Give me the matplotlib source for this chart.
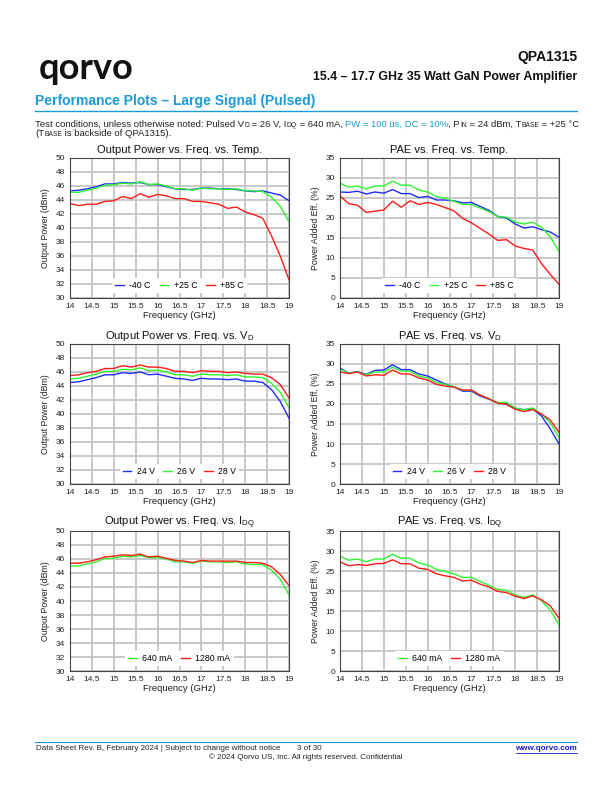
import matplotlib
matplotlib.use("Agg")
import matplotlib.pyplot as plt

plt.rcParams['font.family'] = ['Liberation Sans', 'DejaVu Sans']
plt.rcParams['mathtext.fontset'] = 'custom'
plt.rcParams['mathtext.rm'] = 'Liberation Sans'
plt.rcParams['mathtext.it'] = 'Liberation Sans'

# ---------------- data ----------------
freq = [14.0, 14.2, 14.4, 14.6, 14.8, 15.0, 15.2, 15.4, 15.6, 15.8, 16.0, 16.2, 16.4,
        16.6, 16.8, 17.0, 17.2, 17.4, 17.6, 17.8, 18.0, 18.2, 18.4, 18.6, 18.8, 19.0]

pout_m40 = [45.3, 45.4, 45.6, 45.9, 46.3, 46.3, 46.5, 46.4, 46.5, 46.2, 46.2, 45.9, 45.6,
            45.5, 45.5, 45.7, 45.7, 45.6, 45.6, 45.5, 45.3, 45.2, 45.3, 45.0, 44.7, 43.9]
pout_p25 = [45.1, 45.1, 45.4, 45.7, 46.1, 46.2, 46.4, 46.3, 46.6, 46.2, 46.3, 46.0, 45.6,
            45.6, 45.4, 45.7, 45.6, 45.6, 45.5, 45.6, 45.3, 45.3, 45.2, 44.4, 43.1, 40.9]
pout_p85 = [43.5, 43.2, 43.4, 43.4, 43.8, 43.9, 44.5, 44.2, 44.9, 44.4, 44.8, 44.6, 44.2,
            44.2, 43.8, 43.8, 43.6, 43.4, 42.8, 43.0, 42.3, 41.9, 41.4, 38.9, 36.0, 32.6]

pae_m40 = [26.5, 26.4, 26.7, 26.0, 26.5, 26.2, 27.1, 26.1, 26.1, 25.1, 25.4, 24.5, 24.5,
           24.3, 23.8, 23.9, 22.9, 21.9, 20.4, 20.0, 18.5, 17.5, 17.8, 17.1, 16.5, 15.2]
pae_p25 = [28.7, 27.7, 28.0, 27.3, 28.0, 28.0, 29.2, 28.2, 28.2, 27.0, 26.5, 25.4, 24.9,
           24.2, 23.4, 23.4, 22.5, 21.6, 20.4, 20.2, 19.0, 18.5, 19.0, 17.7, 15.3, 11.6]
pae_p85 = [25.5, 23.6, 23.2, 21.4, 21.7, 22.0, 24.2, 22.7, 24.3, 23.4, 23.9, 23.4, 22.6,
           21.8, 19.9, 18.8, 17.4, 16.0, 14.4, 14.6, 13.0, 12.4, 12.0, 8.6, 5.9, 3.4]

pout_24v = [44.5, 44.6, 44.9, 45.2, 45.6, 45.6, 45.9, 45.8, 46.0, 45.6, 45.7, 45.4, 45.1,
            45.0, 44.8, 45.1, 45.0, 45.0, 44.9, 45.0, 44.7, 44.7, 44.5, 43.5, 41.8, 39.4]
pout_26v = [45.0, 45.1, 45.4, 45.7, 46.1, 46.1, 46.4, 46.3, 46.6, 46.2, 46.3, 46.0, 45.6,
            45.6, 45.4, 45.7, 45.6, 45.6, 45.5, 45.6, 45.3, 45.3, 45.2, 44.4, 43.1, 40.9]
pout_28v = [45.5, 45.6, 45.9, 46.1, 46.5, 46.5, 46.9, 46.7, 47.0, 46.7, 46.7, 46.5, 46.1,
            46.1, 45.9, 46.2, 46.1, 46.1, 45.9, 46.0, 45.8, 45.7, 45.7, 45.2, 44.2, 42.3]

pae_24v = [29.0, 27.7, 28.1, 27.4, 28.4, 28.5, 29.8, 28.6, 28.6, 27.5, 27.0, 26.0, 25.0,
           24.3, 23.2, 23.2, 22.0, 21.2, 20.3, 20.2, 18.9, 18.6, 18.8, 17.0, 13.8, 10.0]
pae_26v = [28.7, 27.7, 28.0, 27.3, 28.0, 28.0, 29.2, 28.2, 28.2, 27.0, 26.5, 25.4, 24.9,
           24.3, 23.4, 23.4, 22.3, 21.3, 20.4, 20.4, 19.0, 18.5, 19.0, 17.5, 15.3, 11.6]
pae_28v = [28.0, 27.6, 28.0, 27.0, 27.3, 27.2, 28.5, 27.5, 27.5, 26.5, 26.0, 24.9, 24.5,
           24.2, 23.5, 23.5, 22.2, 21.3, 20.2, 19.9, 18.7, 18.1, 18.6, 17.5, 16.0, 12.9]

pout_640 = [45.0, 45.0, 45.3, 45.6, 46.1, 46.1, 46.4, 46.3, 46.5, 46.2, 46.2, 46.0, 45.6,
            45.6, 45.4, 45.7, 45.6, 45.6, 45.5, 45.6, 45.3, 45.2, 45.2, 44.4, 43.1, 40.9]
pout_1280 = [45.4, 45.4, 45.6, 45.9, 46.3, 46.4, 46.6, 46.5, 46.7, 46.3, 46.4, 46.1, 45.8,
             45.7, 45.5, 45.8, 45.7, 45.7, 45.7, 45.7, 45.5, 45.5, 45.4, 44.9, 43.8, 42.2]

pae_640 = [28.7, 27.7, 28.0, 27.3, 28.0, 28.0, 29.2, 28.2, 28.2, 27.0, 26.5, 25.4, 24.9,
           24.3, 23.4, 23.4, 22.4, 21.4, 20.4, 20.2, 19.0, 18.4, 19.0, 17.6, 15.2, 11.6]
pae_1280 = [27.3, 26.3, 26.6, 26.4, 26.8, 26.9, 27.8, 26.8, 26.8, 25.7, 25.4, 24.3, 23.8,
            23.4, 22.5, 22.7, 21.7, 21.0, 19.9, 19.6, 18.7, 18.1, 18.8, 17.8, 16.3, 13.2]

temp_labels = ['-40 C', '+25 C', '+85 C']
vd_labels = ['24 V', '26 V', '28 V']
idq_labels = ['640 mA', '1280 mA']
xticks = [14, 14.5, 15, 15.5, 16, 16.5, 17, 17.5, 18, 18.5, 19]
xticklabels = ['14', '14.5', '15', '15.5', '16', '16.5', '17', '17.5', '18', '18.5', '19']
pout_ticks = [30, 32, 34, 36, 38, 40, 42, 44, 46, 48, 50]
pae_ticks = [0, 5, 10, 15, 20, 25, 30, 35]

BLUE = '#1f2bff'
GREEN = '#2ef52e'
RED = '#ff1a1a'
QBLUE = '#1a9ad6'
TXT = '#222222'

W, H = 612, 792
fig = plt.figure(figsize=(W / 100, H / 100), dpi=100)
renderer = fig.canvas.get_renderer()


def fx(x):
    return x / W


def fy(y):
    return 1 - y / H


def make_ax(l, t, r, b):
    return fig.add_axes([fx(l), fy(b), (r - l) / W, (b - t) / H])


def style(ax, title, ylabel, yticks, ylim):
    ax.set_xlim(14, 19)
    ax.set_ylim(*ylim)
    ax.set_xticks(xticks)
    ax.set_xticklabels(xticklabels)
    ax.set_yticks(yticks)
    ax.tick_params(length=0, labelsize=6, pad=3.5, colors=TXT)
    ax.grid(True, color='#c4c4c4', linewidth=1.3)
    ax.set_axisbelow(True)
    for s in ax.spines.values():
        s.set_color('#444444')
        s.set_linewidth(0.8)
    ax.set_title(title, fontsize=8, pad=3.5, color='#111111')
    ax.set_xlabel('Frequency (GHz)', fontsize=6.8, labelpad=1, color=TXT)
    ax.set_ylabel(ylabel, fontsize=6.3, labelpad=4, color=TXT)


def legend(ax, ncol):
    lg = ax.legend(loc='lower center', bbox_to_anchor=(0.5, 0.015), ncol=ncol,
                   fontsize=6.3, frameon=True, handlelength=1.0, handletextpad=0.6,
                   columnspacing=1.0, borderpad=0.35, borderaxespad=0.3, fancybox=False)
    lg.get_frame().set_facecolor('white')
    lg.get_frame().set_edgecolor('none')
    lg.get_frame().set_alpha(1)


cols_x = [(70, 289), (340, 559)]
rows_y = [(158, 298), (344, 484), (531, 671)]

lw = 1.0
# Row 1
ax = make_ax(cols_x[0][0], rows_y[0][0], cols_x[0][1], rows_y[0][1])
for d, c, lab in zip([pout_m40, pout_p25, pout_p85], [BLUE, GREEN, RED], temp_labels):
    ax.plot(freq, d, color=c, lw=lw, label=lab)
style(ax, 'Output Power vs. Freq. vs. Temp.', 'Output Power (dBm)', pout_ticks, (30, 50))
legend(ax, 3)

ax = make_ax(cols_x[1][0], rows_y[0][0], cols_x[1][1], rows_y[0][1])
for d, c, lab in zip([pae_m40, pae_p25, pae_p85], [BLUE, GREEN, RED], temp_labels):
    ax.plot(freq, d, color=c, lw=lw, label=lab)
style(ax, 'PAE vs. Freq. vs. Temp.', 'Power Added Eff. (%)', pae_ticks, (0, 35))
legend(ax, 3)

# Row 2
ax = make_ax(cols_x[0][0], rows_y[1][0], cols_x[0][1], rows_y[1][1])
for d, c, lab in zip([pout_24v, pout_26v, pout_28v], [BLUE, GREEN, RED], vd_labels):
    ax.plot(freq, d, color=c, lw=lw, label=lab)
style(ax, r'Output Power vs. Freq. vs. V$_\mathrm{D}$', 'Output Power (dBm)', pout_ticks, (30, 50))
legend(ax, 3)

ax = make_ax(cols_x[1][0], rows_y[1][0], cols_x[1][1], rows_y[1][1])
for d, c, lab in zip([pae_24v, pae_26v, pae_28v], [BLUE, GREEN, RED], vd_labels):
    ax.plot(freq, d, color=c, lw=lw, label=lab)
style(ax, r'PAE vs. Freq. vs. V$_\mathrm{D}$', 'Power Added Eff. (%)', pae_ticks, (0, 35))
legend(ax, 3)

# Row 3
ax = make_ax(cols_x[0][0], rows_y[2][0], cols_x[0][1], rows_y[2][1])
for d, c, lab in zip([pout_640, pout_1280], [GREEN, RED], idq_labels):
    ax.plot(freq, d, color=c, lw=lw, label=lab)
style(ax, r'Output Power vs. Freq. vs. I$_\mathrm{DQ}$', 'Output Power (dBm)', pout_ticks, (30, 50))
legend(ax, 2)

ax = make_ax(cols_x[1][0], rows_y[2][0], cols_x[1][1], rows_y[2][1])
for d, c, lab in zip([pae_640, pae_1280], [GREEN, RED], idq_labels):
    ax.plot(freq, d, color=c, lw=lw, label=lab)
style(ax, r'PAE vs. Freq. vs. I$_\mathrm{DQ}$', 'Power Added Eff. (%)', pae_ticks, (0, 35))
legend(ax, 2)

# ---------------- header ----------------
fig.text(fx(39), fy(79), 'qorvo', fontsize=26, fontweight='bold', family=['Lato', 'DejaVu Sans'],
         va='baseline', ha='left', color='#111111')
fig.text(fx(577), fy(57), 'QPA1315', fontsize=10, fontweight='bold', ha='right', va='center',
         color='#111111')
fig.text(fx(577), fy(77), '15.4 – 17.7 GHz 35 Watt GaN Power Amplifier', fontsize=8.9,
         fontweight='bold', ha='right', va='center', color='#111111')
fig.text(fx(35), fy(105.5), 'Performance Plots – Large Signal (Pulsed)', fontsize=10,
         fontweight='bold', ha='left', va='baseline', color=QBLUE)
fig.add_artist(plt.Line2D([fx(35), fx(577)], [fy(111.3), fy(111.3)], color=QBLUE, lw=1.0))


def chain(x0, ybase, segs, base=6.8, sub=4.85):
    x = x0
    for s, is_sub, color in segs:
        size = sub if is_sub else base
        dy = 0.5 if is_sub else 0.0
        t = fig.text(fx(x), fy(ybase + dy), s, fontsize=size, color=color,
                     ha='left', va='baseline')
        x += t.get_window_extent(renderer).width


line1 = [
    ('Test conditions, unless otherwise noted: Pulsed V', False, TXT),
    ('D', True, TXT),
    (' = 26 V, I', False, TXT),
    ('DQ', True, TXT),
    (' = 640 mA, ', False, TXT),
    ('PW = 100 us, DC = 10%', False, QBLUE),
    (', P', False, TXT),
    ('IN', True, TXT),
    (' = 24 dBm, T', False, TXT),
    ('BASE', True, TXT),
    (' = +25 °C', False, TXT),
]
line2 = [
    ('(T', False, TXT),
    ('BASE', True, TXT),
    (' is backside of QPA1315).', False, TXT),
]
chain(35, 126.7, line1)
chain(35, 135.7, line2)

# ---------------- footer ----------------
fig.add_artist(plt.Line2D([fx(35), fx(577)], [fy(742), fy(742)], color=QBLUE, lw=0.8))
fig.text(fx(36), fy(749), 'Data Sheet Rev. B, February 2024 | Subject to change without notice',
         fontsize=5.75, ha='left', va='center', color=TXT)
fig.text(fx(297), fy(749), '3 of 30', fontsize=5.75, ha='left', va='center', color=TXT)
fig.text(fx(577), fy(749), 'www.qorvo.com', fontsize=5.8, ha='right', va='center',
         color='#1a1acc', fontweight='bold')
fig.add_artist(plt.Line2D([fx(516), fx(577)], [fy(752.5), fy(752.5)], color='#1a1acc', lw=0.6))
fig.text(fx(306), fy(757), '© 2024 Qorvo US, Inc. All rights reserved. Confidential',
         fontsize=5.75, ha='center', va='center', color=TXT)

fig.savefig('out.png', dpi=100)
